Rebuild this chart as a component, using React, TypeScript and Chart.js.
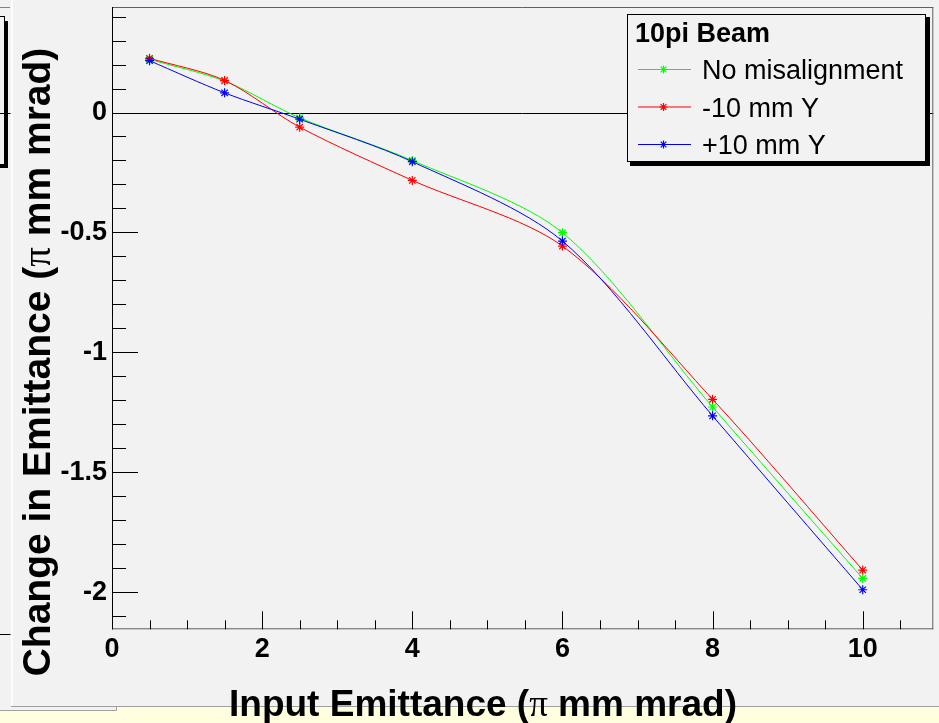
import React, { useEffect, useRef } from 'react';
import { Chart, registerables } from 'chart.js';

Chart.register(...registerables);

// Input emittance values (π mm mrad) at which the beam was simulated
const inputEmittance = [0.5, 1.5, 2.5, 4, 6, 8, 10];

// Change in emittance for each alignment case
const noMisalignment = [0.222, 0.131, -0.022, -0.2, -0.501, -1.228, -1.943];
const minus10mmY = [0.226, 0.134, -0.061, -0.283, -0.557, -1.196, -1.908];
const plus10mmY = [0.216, 0.082, -0.028, -0.205, -0.536, -1.265, -1.99];

const seriesLabels = ['No misalignment', '-10 mm Y', '+10 mm Y'];
const seriesColors = ['#00ff00', '#ff0000', '#0000ff'];
const legendTitle = '10pi Beam';

const xTitleParts = ['Input Emittance (', 'π', ' mm mrad)'];
const yTitleParts = ['Change in Emittance (', 'π', ' mm mrad)'];

const xMajorStep = 2;
const xMinorStep = 0.5;
const yMajorStep = 0.5;
const yMinorStep = 0.1;
const xLimits = [0, 10.94];
const yLimits = [-2.155, 0.44];

const BG = '#f2f2f2';
const SANS = '"Liberation Sans", Arial, sans-serif';
const SERIF = '"Liberation Serif", "Times New Roman", serif';

function drawStar(ctx: CanvasRenderingContext2D, x: number, y: number, r: number, color: string) {
  ctx.save();
  ctx.strokeStyle = color;
  ctx.lineWidth = 1.2;
  ctx.beginPath();
  ctx.moveTo(x - r, y);
  ctx.lineTo(x + r, y);
  ctx.moveTo(x, y - r);
  ctx.lineTo(x, y + r);
  const d = r * Math.SQRT1_2;
  ctx.moveTo(x - d, y - d);
  ctx.lineTo(x + d, y + d);
  ctx.moveTo(x - d, y + d);
  ctx.lineTo(x + d, y - d);
  ctx.stroke();
  ctx.restore();
}

// Splits a title into segments; the π segment uses a serif face
function titleSegments(ctx: CanvasRenderingContext2D, parts: string[], size: number) {
  return parts.map((t, i) => {
    const font = i === 1 ? `${size}px ${SERIF}` : `bold ${size}px ${SANS}`;
    ctx.font = font;
    return { t, font, w: ctx.measureText(t).width };
  });
}

function drawTitle(
  ctx: CanvasRenderingContext2D,
  parts: string[],
  size: number,
  cx: number,
  cy: number,
  rotate: boolean
) {
  const segs = titleSegments(ctx, parts, size);
  const total = segs.reduce((a, s) => a + s.w, 0);
  ctx.save();
  ctx.translate(cx, cy);
  if (rotate) ctx.rotate(-Math.PI / 2);
  ctx.fillStyle = '#000';
  ctx.textBaseline = 'alphabetic';
  ctx.textAlign = 'left';
  let x = -total / 2;
  for (const s of segs) {
    ctx.font = s.font;
    ctx.fillText(s.t, x, 0);
    x += s.w;
  }
  ctx.restore();
}

const framePlugin = {
  id: 'frameDecor',
  beforeDraw(chart: any) {
    const ctx: CanvasRenderingContext2D = chart.ctx;
    const { width, height } = chart;
    ctx.save();
    ctx.fillStyle = BG;
    ctx.fillRect(0, 0, width, height);
    // pale strip along the bottom of the window
    ctx.fillStyle = '#ffffe0';
    ctx.fillRect(0, 707, width, height - 707);
    ctx.fillStyle = BG;
    ctx.fillRect(0, 707, 116, 3);
    ctx.strokeStyle = '#a0a0a0';
    ctx.lineWidth = 1;
    ctx.beginPath();
    ctx.moveTo(11, 706.5);
    ctx.lineTo(width, 706.5);
    ctx.moveTo(0, 710.5);
    ctx.lineTo(116.5, 710.5);
    ctx.lineTo(116.5, 706.5);
    ctx.stroke();
    // edge of the neighbouring pad on the left
    ctx.fillStyle = '#fcfcfc';
    ctx.fillRect(11, 0, 2, 706);
    ctx.strokeStyle = '#808080';
    ctx.beginPath();
    ctx.moveTo(0, 7.5);
    ctx.lineTo(10, 7.5);
    ctx.stroke();
    ctx.strokeStyle = '#000';
    ctx.beginPath();
    ctx.moveTo(0, 113.5);
    ctx.lineTo(10.5, 113.5);
    ctx.moveTo(0, 634.5);
    ctx.lineTo(10.5, 634.5);
    ctx.stroke();
    ctx.fillStyle = '#000';
    ctx.fillRect(5, 21, 3, 147);
    ctx.fillRect(0, 165, 8, 3);
    ctx.strokeRect(-6.5, 16.5, 11, 148);
    ctx.restore();
  },
  beforeDatasetsDraw(chart: any) {
    const ctx: CanvasRenderingContext2D = chart.ctx;
    const { left, right } = chart.chartArea;
    const y0 = Math.round(chart.scales.y.getPixelForValue(0)) + 0.5;
    ctx.save();
    ctx.strokeStyle = '#000';
    ctx.lineWidth = 1;
    ctx.beginPath();
    ctx.moveTo(left, y0);
    ctx.lineTo(right, y0);
    ctx.stroke();
    ctx.restore();
  },
  afterDatasetsDraw(chart: any) {
    const ctx: CanvasRenderingContext2D = chart.ctx;
    const { left, right, top, bottom } = chart.chartArea;
    const xs = chart.scales.x;
    const ys = chart.scales.y;
    ctx.save();
    ctx.lineWidth = 1;
    // frame
    ctx.strokeStyle = '#606060';
    ctx.beginPath();
    ctx.moveTo(left, top + 0.5);
    ctx.lineTo(right, top + 0.5);
    ctx.moveTo(right - 0.5, top);
    ctx.lineTo(right - 0.5, bottom);
    ctx.moveTo(left, bottom - 0.5);
    ctx.lineTo(right, bottom - 0.5);
    ctx.stroke();
    ctx.strokeStyle = '#000';
    ctx.beginPath();
    ctx.moveTo(left + 0.5, top);
    ctx.lineTo(left + 0.5, bottom);
    ctx.stroke();
    // x ticks, pointing into the plot
    ctx.beginPath();
    const nx = Math.floor(xLimits[1] / xMinorStep + 1e-6);
    for (let i = 0; i <= nx; i++) {
      const v = i * xMinorStep;
      const major = Math.abs(v / xMajorStep - Math.round(v / xMajorStep)) < 1e-6;
      const px = Math.round(xs.getPixelForValue(v)) + 0.5;
      ctx.moveTo(px, bottom);
      ctx.lineTo(px, bottom - (major ? 18 : 9));
    }
    // y ticks
    const lo = Math.ceil(yLimits[0] / yMinorStep - 1e-6);
    const hi = Math.floor(yLimits[1] / yMinorStep + 1e-6);
    for (let i = lo; i <= hi; i++) {
      const v = i * yMinorStep;
      const major = Math.abs(v / yMajorStep - Math.round(v / yMajorStep)) < 1e-6;
      const py = Math.round(ys.getPixelForValue(v)) + 0.5;
      ctx.moveTo(left, py);
      ctx.lineTo(left + (major ? 26 : 14), py);
    }
    ctx.stroke();
    ctx.restore();
  },
  afterDraw(chart: any) {
    const ctx: CanvasRenderingContext2D = chart.ctx;
    // axis titles
    drawTitle(ctx, xTitleParts, 37, 483, 716, false);
    drawTitle(ctx, yTitleParts, 39, 50, 362, true);

    // legend box with drop shadow
    ctx.save();
    ctx.fillStyle = '#000';
    ctx.fillRect(630, 17, 300, 149);
    ctx.fillStyle = BG;
    ctx.fillRect(627, 14, 299, 148);
    ctx.strokeStyle = '#000';
    ctx.lineWidth = 1;
    ctx.strokeRect(627.5, 14.5, 298, 147);
    ctx.fillStyle = '#000';
    ctx.textAlign = 'left';
    ctx.textBaseline = 'alphabetic';
    ctx.font = `bold 27px ${SANS}`;
    ctx.fillText(legendTitle, 635, 42);
    const rows = [69, 106.5, 144];
    chart.data.datasets.forEach((ds: any, i: number) => {
      const y = rows[i] + 0.5;
      ctx.strokeStyle = ds.borderColor;
      ctx.lineWidth = 1;
      ctx.beginPath();
      ctx.moveTo(638, y);
      ctx.lineTo(691, y);
      ctx.stroke();
      drawStar(ctx, 663.5, y, 4, ds.borderColor);
      ctx.fillStyle = '#000';
      ctx.font = `27px ${SANS}`;
      ctx.fillText(ds.label, 702, rows[i] + 10);
    });
    ctx.restore();
  },
};

const seriesValues = [noMisalignment, minus10mmY, plus10mmY];

// Scales keep a fixed size and do not reserve extra room for overhanging labels
function fixScale(size: { width?: number; height?: number }) {
  return (s: any) => {
    if (size.width !== undefined) s.width = size.width;
    if (size.height !== undefined) s.height = size.height;
    s.paddingTop = 0;
    s.paddingBottom = 0;
    s.paddingLeft = 0;
    s.paddingRight = 0;
  };
}

export default function App() {
  const ref = useRef<HTMLCanvasElement>(null);

  useEffect(() => {
    document.body.style.margin = '0';
    const canvas = ref.current;
    if (!canvas) return;
    const tickFont = { family: SANS, size: 27, weight: 'bold' as const };
    const chart = new Chart(canvas, {
      type: 'line',
      data: {
        datasets: seriesValues.map((vals, i) => ({
          label: seriesLabels[i],
          data: inputEmittance.map((x, j) => ({ x, y: vals[j] })),
          borderColor: seriesColors[i],
          backgroundColor: seriesColors[i],
          pointBorderColor: seriesColors[i],
          pointBackgroundColor: seriesColors[i],
          borderWidth: 1,
          pointStyle: 'star',
          pointRadius: 4.5,
          pointBorderWidth: 1.2,
          tension: 0.3,
          fill: false,
          order: 3 - i,
        })),
      },
      options: {
        responsive: false,
        animation: false,
        devicePixelRatio: 1,
        events: [],
        layout: { padding: { left: 0, top: 7, right: 3.3, bottom: 0 } },
        plugins: {
          legend: { display: false },
          tooltip: { enabled: false },
        },
        scales: {
          x: {
            type: 'linear',
            min: xLimits[0],
            max: xLimits[1],
            afterFit: fixScale({ height: 723 - 629.3 }),
            grid: { display: false, drawTicks: false },
            border: { display: false },
            ticks: {
              stepSize: xMajorStep,
              includeBounds: false,
              autoSkip: false,
              maxRotation: 0,
              padding: 4,
              color: '#000',
              font: tickFont,
              callback: (v: any) => String(+Number(v).toFixed(1)),
            },
          },
          y: {
            type: 'linear',
            min: yLimits[0],
            max: yLimits[1],
            afterFit: fixScale({ width: 112 }),
            grid: { display: false, drawTicks: false },
            border: { display: false },
            ticks: {
              stepSize: yMajorStep,
              includeBounds: false,
              autoSkip: false,
              padding: 5,
              color: '#000',
              font: tickFont,
              callback: (v: any) => String(+Number(v).toFixed(1)),
            },
          },
        },
      },
      plugins: [framePlugin],
    });
    return () => chart.destroy();
  }, []);

  return <canvas ref={ref} width={939} height={723} style={{ display: 'block' }} />;
}
